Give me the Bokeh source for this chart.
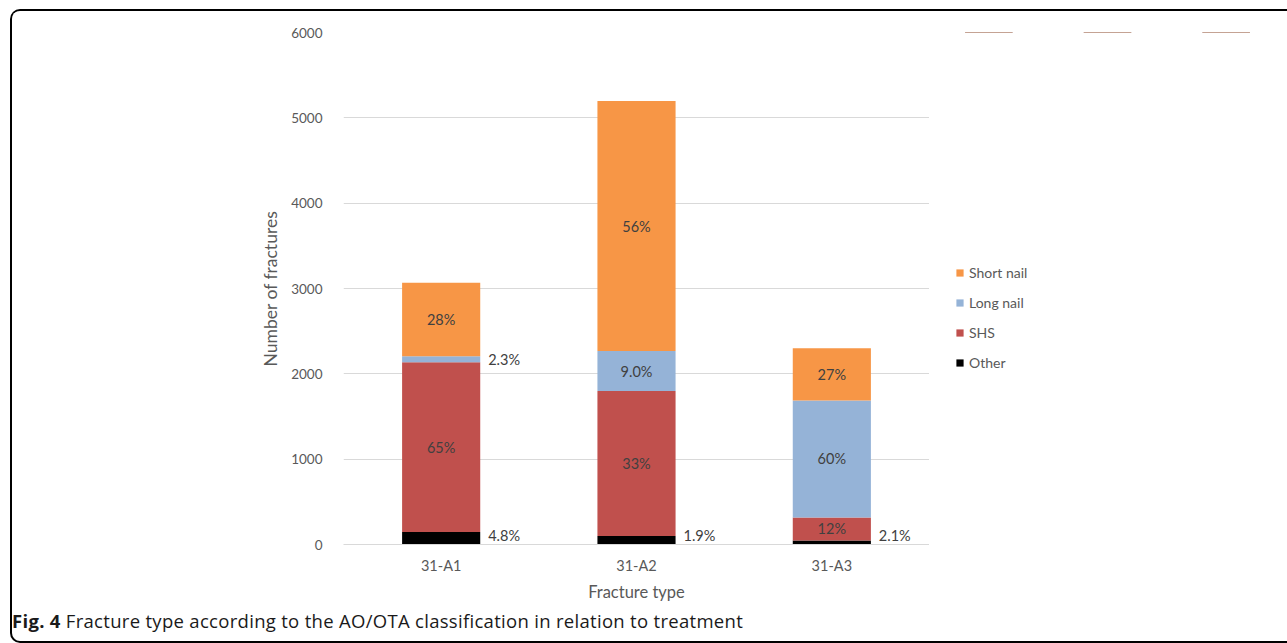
from bokeh.plotting import figure
from bokeh.layouts import column, row
from bokeh.models import (ColumnDataSource, FactorRange, Range1d, SingleIntervalTicker,
                          Legend, LegendItem, Div)
from bokeh.core.properties import value
from bokeh.embed import file_html
from bokeh.resources import INLINE

# Fracture counts per AO/OTA type, split by treatment
categories = ["31-A1", "31-A2", "31-A3"]
series = ["Other", "SHS", "Long nail", "Short nail"]
other = [147, 99, 48]
shs = [1990, 1700, 268]
long_nail = [70, 468, 1372]
short_nail = [860, 2930, 612]
colors = ["#000000", "#C0504D", "#95B3D7", "#F79646"]

y_max = 6000
y_step = 1000

caption_bold = "Fig. 4"
caption_text = "Fracture type according to the AO/OTA classification in relation to treatment"

FONT = "Lato"
GREY = "#595959"

data = {"cat": categories, "Other": other, "SHS": shs,
        "Long nail": long_nail, "Short nail": short_nail}
source = ColumnDataSource(data)

p = figure(x_range=FactorRange(*categories), y_range=Range1d(0, y_max),
           width=917, height=600, output_backend="svg", toolbar_location=None,
           min_border_left=331, min_border_right=0, min_border_top=21,
           min_border_bottom=67, outline_line_color=None,
           background_fill_color="white", border_fill_color="white")

p.vbar_stack(series, x="cat", width=0.4, source=source, color=colors, line_color=None)

# percentage labels: inside the segment, or beside the bar for thin segments
def fmt(pct):
    return f"{pct:.0f}%" if pct >= 10 else f"{pct:.1f}%"

in_x, in_y, in_t = [], [], []
side_x, side_y, side_t = [], [], []
base_x, base_y, base_t = [], [], []
for i, cat in enumerate(categories):
    vals = [data[s][i] for s in series]
    total = sum(vals)
    bottom = 0
    for s, v in zip(series, vals):
        pct = 100.0 * v / total
        mid = bottom + v / 2
        if pct >= 5:
            in_x.append(cat); in_y.append(mid); in_t.append(fmt(pct))
        elif bottom == 0:
            base_x.append(cat); base_y.append(bottom); base_t.append(fmt(pct))
        else:
            side_x.append(cat); side_y.append(mid); side_t.append(fmt(pct))
        bottom += v

label_style = dict(text_font=value(FONT), text_font_size="14.5px", text_color="#404040")
p.text(x=in_x, y=in_y, text=in_t, text_align="center", text_baseline="middle", **label_style)
p.text(x=side_x, y=side_y, text=side_t, text_align="left", text_baseline="middle",
       x_offset=47, **label_style)
p.text(x=base_x, y=base_y, text=base_t, text_align="left", text_baseline="bottom",
       x_offset=47, y_offset=-1, **label_style)

# axes
p.yaxis.ticker = SingleIntervalTicker(interval=y_step)
p.yaxis.axis_line_color = None
p.yaxis.major_tick_line_color = None
p.yaxis.minor_tick_line_color = None
p.yaxis.major_label_standoff = 15
p.yaxis.major_label_text_font = FONT
p.yaxis.major_label_text_font_size = "13.5px"
p.yaxis.major_label_text_color = GREY
p.yaxis.axis_label = "Number of fractures"
p.yaxis.axis_label_text_font = FONT
p.yaxis.axis_label_text_font_size = "17.5px"
p.yaxis.axis_label_text_font_style = "normal"
p.yaxis.axis_label_text_color = GREY
p.yaxis.axis_label_standoff = 7

p.xaxis.axis_line_color = "#D9D9D9"
p.xaxis.major_tick_line_color = None
p.xaxis.minor_tick_line_color = None
p.xaxis.major_label_standoff = 6
p.xaxis.major_label_text_font = FONT
p.xaxis.major_label_text_font_size = "14.5px"
p.xaxis.major_label_text_color = GREY
p.xaxis.axis_label = "Fracture type"
p.xaxis.axis_label_text_font = FONT
p.xaxis.axis_label_text_font_size = "16.5px"
p.xaxis.axis_label_text_font_style = "normal"
p.xaxis.axis_label_text_color = GREY
p.xaxis.axis_label_standoff = 5

p.xgrid.grid_line_color = None
p.ygrid.grid_line_color = "#D9D9D9"
p.ygrid.grid_line_width = 1

# legend panel beside the chart, top entry first; its stack sits below the visible range
lf = figure(width=356, height=600, x_range=FactorRange(*categories),
            y_range=Range1d(-2 * y_max, -y_max),
            output_backend="svg", toolbar_location=None, min_border=0,
            x_axis_location=None, y_axis_location=None, outline_line_color=None,
            background_fill_color="white", border_fill_color="white")
lf.xgrid.grid_line_color = None
lf.ygrid.grid_line_color = None
swatches = lf.vbar_stack(series, x="cat", width=0.4, source=source,
                         color=colors, line_color=None)
items = [LegendItem(label=s, renderers=[r]) for s, r in zip(series, swatches)][::-1]
legend = Legend(items=items, location=(26, 172), orientation="vertical",
                glyph_width=9, glyph_height=9, label_height=20, spacing=10,
                label_standoff=5, padding=0, margin=0,
                label_text_font=FONT, label_text_font_size="14px",
                label_text_color=GREY, border_line_color=None,
                background_fill_alpha=0)
lf.add_layout(legend, "center")

caption = Div(text=f"<b>{caption_bold}</b> {caption_text}", width=1273, height=30,
              margin=0,
              styles={"font-family": "'Open Sans', sans-serif", "font-size": "18.5px",
                      "letter-spacing": "0.3px", "color": "#1a1a1a", "line-height": "20px",
                      "white-space": "nowrap"})

page = column(row(p, lf), caption, margin=(9, 0, 0, 10), width=1277, height=634,
              styles={"border-left": "2px solid #000000", "border-top": "2px solid #000000",
                      "border-bottom": "2px solid #000000", "overflow": "hidden",
                      "border-top-left-radius": "10px", "border-bottom-left-radius": "10px"})

open("out.html", "w").write(file_html(page, INLINE))
